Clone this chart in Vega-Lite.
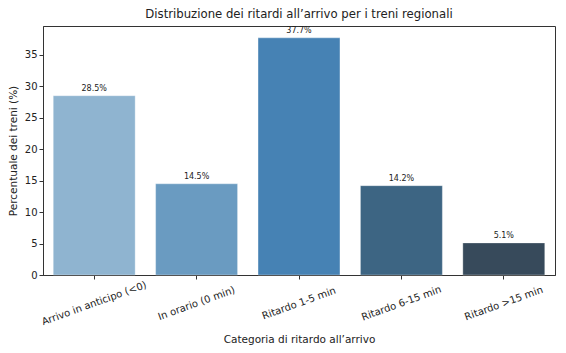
{
  "$schema": "https://vega.github.io/schema/vega-lite/v6.json",
  "width": 512,
  "height": 249,
  "autosize": {"type": "none"},
  "padding": {"left": 43, "top": 26, "right": 11, "bottom": 78},
  "background": "white",
  "title": {"text": "Distribuzione dei ritardi all’arrivo per i treni regionali", "font": "DejaVu Sans", "fontSize": 11.7, "fontWeight": "normal", "color": "#222", "offset": 5},
  "config": {
    "view": {"stroke": "#333", "strokeWidth": 1},
    "axis": {"labelFont": "DejaVu Sans", "titleFont": "DejaVu Sans", "labelFontSize": 10, "titleFontSize": 10.5, "titleFontWeight": "normal", "labelColor": "#222", "titleColor": "#222", "domainColor": "#333", "tickColor": "#333", "tickSize": 4, "grid": false}
  },
  "data": {"values": [
    {"cat": "Arrivo in anticipo (<0)", "pct": 28.5, "label": "28.5%"},
    {"cat": "In orario (0 min)", "pct": 14.5, "label": "14.5%"},
    {"cat": "Ritardo 1-5 min", "pct": 37.7, "label": "37.7%"},
    {"cat": "Ritardo 6-15 min", "pct": 14.2, "label": "14.2%"},
    {"cat": "Ritardo >15 min", "pct": 5.1, "label": "5.1%"}
  ]},
  "encoding": {
    "x": {"field": "cat", "type": "nominal", "sort": null,
      "scale": {"paddingInner": 0.2, "paddingOuter": 0.1},
      "axis": {"title": "Categoria di ritardo all’arrivo", "labelAngle": -20, "labelAlign": "center", "labelBaseline": "middle", "labelPadding": 24, "titlePadding": 8}},
    "y": {"field": "pct", "type": "quantitative",
      "scale": {"domain": [0, 39.585], "nice": false},
      "axis": {"title": "Percentuale dei treni (%)", "values": [0, 5, 10, 15, 20, 25, 30, 35], "titlePadding": 6}}
  },
  "layer": [
    {"mark": {"type": "bar", "stroke": "#ffffff", "strokeOpacity": 0.4, "strokeWidth": 0.8},
     "encoding": {"color": {"field": "cat", "type": "nominal", "sort": null, "legend": null,
       "scale": {"range": ["#8fb4d0", "#6a9bc1", "#4682b4", "#3d6583", "#374a5b"]}}}},
    {"mark": {"type": "text", "baseline": "bottom", "dy": -3, "font": "DejaVu Sans", "fontSize": 8, "color": "#222"},
     "encoding": {"text": {"field": "label"}}}
  ]
}
